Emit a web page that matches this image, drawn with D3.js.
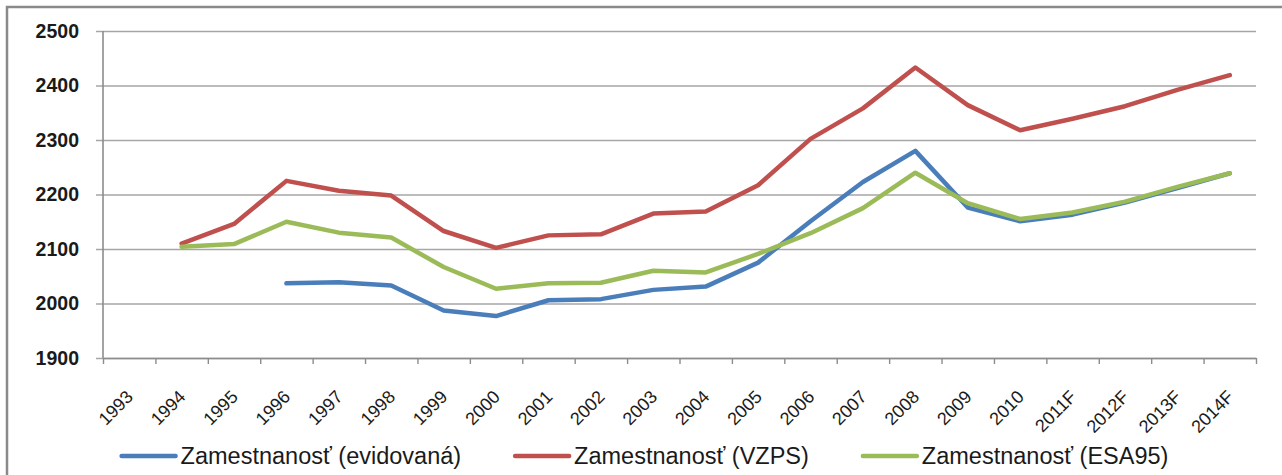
<!DOCTYPE html>
<html>
<head>
<meta charset="utf-8">
<script src="https://cdn.jsdelivr.net/npm/d3@7"></script>
<style>
  body { margin: 0; background: #fff; }
  svg { display: block; font-family: "Liberation Sans", Arial, sans-serif; }
</style>
</head>
<body>
<div id="chart"></div>
<script>
// categories (x axis)
var years = ["1993","1994","1995","1996","1997","1998","1999","2000","2001","2002","2003",
             "2004","2005","2006","2007","2008","2009","2010","2011F","2012F","2013F","2014F"];

// series values (thousands of persons), null = no data
var evidovana = [null,null,null,2037,2039,2033,1987,1977,2006,2008,2025,
                 2031,2075,2151,2223,2280,2176,2151,2163,2185,2212,2239];
var vzps      = [null,2110,2146,2225,2207,2198,2133,2102,2125,2127,2165,
                 2169,2217,2302,2358,2433,2364,2318,2339,2362,2392,2419];
var esa95     = [null,2104,2109,2150,2130,2121,2067,2027,2037,2038,2060,
                 2057,2091,2129,2175,2240,2184,2155,2167,2187,2214,2239];

var yTicks = [1900, 2000, 2100, 2200, 2300, 2400, 2500];

var seriesNames = ["Zamestnanosť (evidovaná)", "Zamestnanosť (VZPS)", "Zamestnanosť (ESA95)"];
var seriesColors = ["#4a7ebb", "#c0504d", "#9bbb59"];
var seriesData = [evidovana, vzps, esa95];

var W = 1282, H = 475;
var plot = {left: 103, right: 1256, top: 31, bottom: 358};

var svg = d3.select("#chart").append("svg")
  .attr("width", W)
  .attr("height", H);

// outer frame (only top and left edges show in the window)
svg.append("rect")
  .attr("x", 7).attr("y", 7)
  .attr("width", W + 20).attr("height", H + 20)
  .attr("fill", "none")
  .attr("stroke", "#8a8a8a")
  .attr("stroke-width", 2.5);

var x = d3.scaleBand()
  .domain(years)
  .range([plot.left, plot.right])
  .paddingInner(0).paddingOuter(0);

// boundaries between categories, used for tick marks
var xEdge = d3.scaleLinear()
  .domain([0, years.length])
  .range([plot.left, plot.right]);

var y = d3.scaleLinear()
  .domain([1900, 2500])
  .range([plot.bottom, plot.top]);

// horizontal gridlines + y labels
var yAxis = d3.axisLeft(y)
  .tickValues(yTicks)
  .tickSize(-(plot.right - plot.left) - 7)
  .tickFormat(d3.format("d"));

var gy = svg.append("g")
  .attr("transform", "translate(" + (plot.left - 7) + ",0)")
  .call(yAxis);
gy.select(".domain").remove();
gy.selectAll(".tick line")
  .attr("stroke", "#a6a6a6")
  .attr("stroke-width", 1.6);
gy.selectAll(".tick text")
  .attr("font-size", "19.5px")
  .attr("font-weight", "bold")
  .attr("fill", "#1a1a1a")
  .attr("x", -17);

// vertical axis line
svg.append("line")
  .attr("x1", plot.left).attr("x2", plot.left)
  .attr("y1", plot.top).attr("y2", plot.bottom)
  .attr("stroke", "#8c8c8c")
  .attr("stroke-width", 1.6);

// bottom axis with tick marks at category edges
var xAxis = d3.axisBottom(xEdge)
  .tickValues(d3.range(0, years.length + 1))
  .tickSize(6)
  .tickSizeOuter(0)
  .tickFormat("");

var gx = svg.append("g")
  .attr("transform", "translate(0," + plot.bottom + ")")
  .call(xAxis);
gx.select(".domain")
  .attr("stroke", "#8c8c8c")
  .attr("stroke-width", 1.6);
gx.selectAll(".tick line")
  .attr("stroke", "#8c8c8c")
  .attr("stroke-width", 1.4);

// rotated category labels
svg.append("g").selectAll("text")
  .data(years)
  .enter()
  .append("text")
    .attr("transform", function(d){
      return "translate(" + (x(d) + x.bandwidth() / 2 + 5) + "," + (plot.bottom + 40) + ") rotate(-45)";
    })
    .attr("text-anchor", "end")
    .attr("font-size", "18px")
    .attr("fill", "#1a1a1a")
    .text(function(d){ return d; });

// lines
var line = d3.line()
  .defined(function(d){ return d != null; })
  .x(function(d, i){ return x(years[i]) + x.bandwidth() / 2; })
  .y(function(d){ return y(d); });

seriesData.forEach(function(values, k){
  svg.append("path")
    .datum(values)
    .attr("fill", "none")
    .attr("stroke", seriesColors[k])
    .attr("stroke-width", 4.5)
    .attr("stroke-linejoin", "round")
    .attr("stroke-linecap", "round")
    .attr("d", line);
});

// legend, centred under the chart
var legend = svg.append("g");
var sample = 54, gapText = 5, gapItem = 54, legendY = 456;
var items = legend.selectAll("g")
  .data(seriesNames)
  .enter()
  .append("g");

items.append("line")
  .attr("x1", 0).attr("x2", sample)
  .attr("y1", 0).attr("y2", 0)
  .attr("stroke", function(d, i){ return seriesColors[i]; })
  .attr("stroke-width", 4.5)
  .attr("stroke-linecap", "round");

items.append("text")
  .attr("x", sample + gapText)
  .attr("y", 8)
  .attr("font-size", "23.5px")
  .attr("fill", "#1a1a1a")
  .text(function(d){ return d; });

var widths = [];
items.each(function(){ widths.push(this.getBBox().width); });
var total = d3.sum(widths) + gapItem * (widths.length - 1);
var pos = 645 - total / 2;
items.attr("transform", function(d, i){
  var t = "translate(" + pos + "," + legendY + ")";
  pos += widths[i] + gapItem;
  return t;
});
</script>
</body>
</html>
